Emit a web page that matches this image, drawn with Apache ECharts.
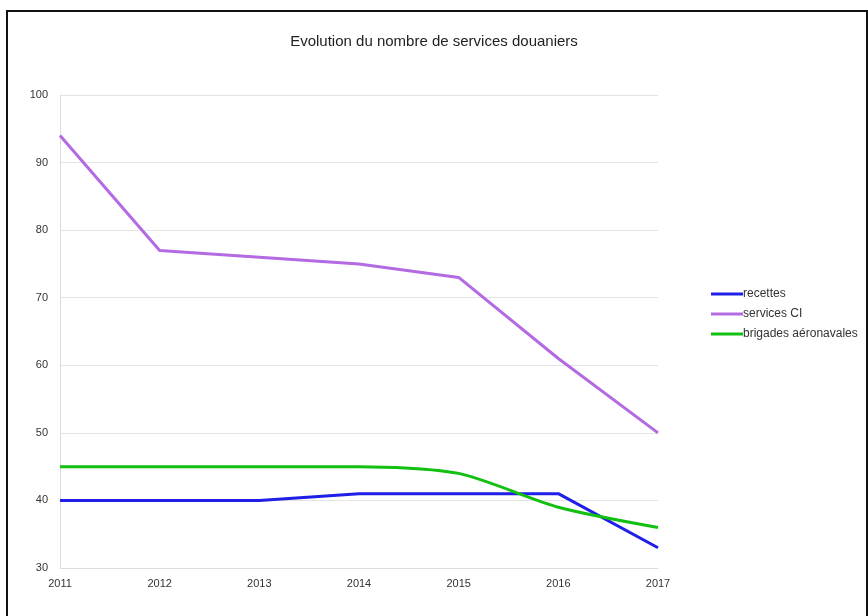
<!DOCTYPE html>
<html><head><meta charset="utf-8">
<script src="https://cdn.jsdelivr.net/npm/echarts@6/dist/echarts.min.js"></script>
<style>html,body{margin:0;padding:0;background:#fff}#c{width:868px;height:616px}</style>
</head><body><div id="c"></div>
<script>
const years = ['2011','2012','2013','2014','2015','2016','2017'];
const recettes = [40, 40, 40, 41, 41, 41, 33];
const servicesCI = [94, 77, 76, 75, 73, 61, 50];
const brigades = [45, 45, 45, 45, 44, 39, 36];
const chart = echarts.init(document.getElementById('c'));
const font = 'Liberation Sans, Arial, sans-serif';
chart.setOption({
  animation: false,
  backgroundColor: '#fff',
  title: {text: 'Evolution du nombre de services douaniers', left: 'center', top: 29,
    textStyle: {fontFamily: font, fontSize: 15, fontWeight: 'normal', color: '#222'}},
  graphic: [{type: 'rect', shape: {x: 7, y: 11, width: 860, height: 620},
    style: {fill: 'none', stroke: '#111', lineWidth: 2}, silent: true}],
  legend: {orient: 'vertical', left: 706, top: 283, itemWidth: 32, itemHeight: 3, itemGap: 8,
    icon: 'rect',
    textStyle: {fontFamily: font, fontSize: 12, color: '#333', padding: [0,0,0,-5]},
    data: ['recettes', 'services CI', 'brigades aéronavales']},
  grid: {left: 60, right: 210, top: 95, bottom: 48},
  xAxis: {type: 'category', data: years, boundaryGap: false,
    axisLine: {show: true, lineStyle: {color: '#ddd'}}, axisTick: {show: false},
    axisLabel: {fontFamily: font, fontSize: 11, color: '#333', margin: 10},
    splitLine: {show: false}},
  yAxis: {type: 'value', min: 30, max: 100, interval: 10,
    axisLine: {show: true, lineStyle: {color: '#ddd'}}, axisTick: {show: false},
    axisLabel: {fontFamily: font, fontSize: 11, color: '#333', margin: 12},
    splitLine: {lineStyle: {color: '#e4e4e4'}}},
  series: [
    {name: 'recettes', type: 'line', data: recettes, symbol: 'none', lineStyle: {width: 3, color: '#1f1fe8'}, itemStyle: {color: '#1f1fe8'}},
    {name: 'services CI', type: 'line', data: servicesCI, symbol: 'none', lineStyle: {width: 3, color: '#b36ae2'}, itemStyle: {color: '#b36ae2'}},
    {name: 'brigades aéronavales', type: 'line', data: brigades, symbol: 'none', smooth: 0.25, lineStyle: {width: 3, color: '#12c012'}, itemStyle: {color: '#12c012'}}
  ]
});
</script></body></html>
